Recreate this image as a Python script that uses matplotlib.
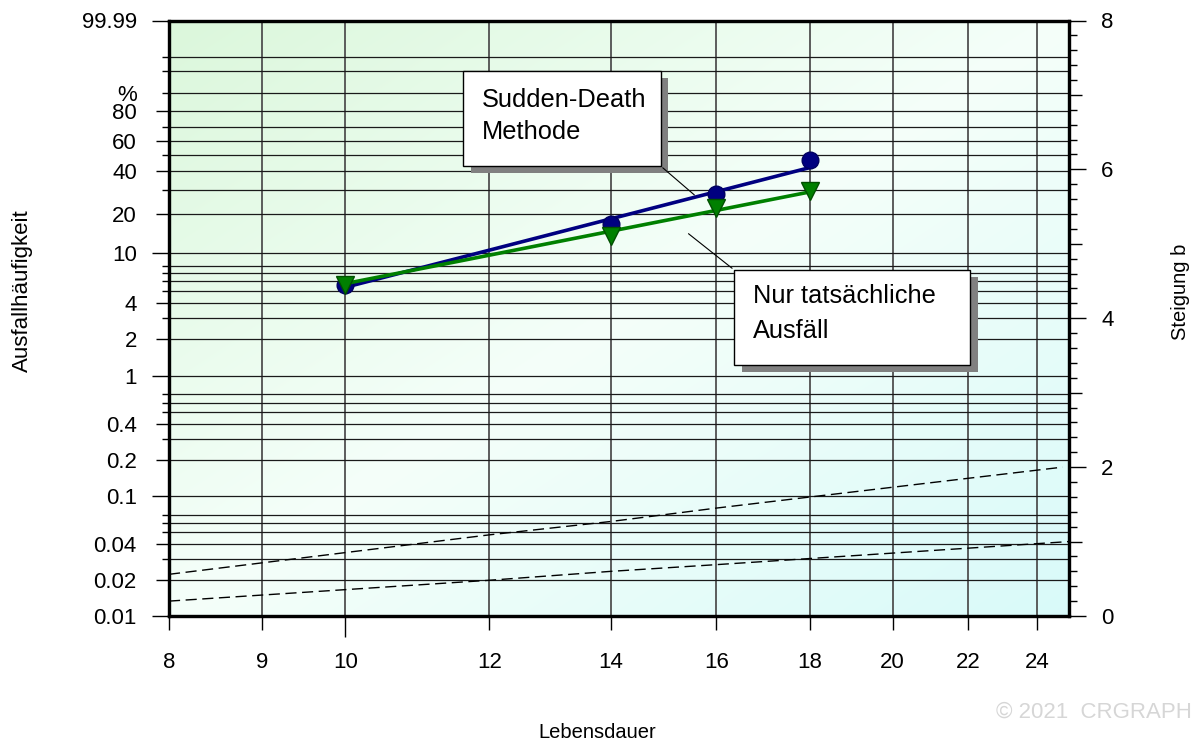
import numpy as np
import matplotlib
matplotlib.use('Agg')
import matplotlib.pyplot as plt
from matplotlib.patches import Rectangle
from matplotlib.ticker import NullLocator

plt.rcParams['font.family'] = ['Liberation Sans', 'DejaVu Sans']

# Ausfallhäufigkeit in % über Lebensdauer
sd_x = [10, 14, 16, 18]
sd_f = [5.6, 16.8, 28.2, 46.7]          # Sudden-Death Methode
real_x = [10, 14, 16, 18]
real_f = [5.6, 13.7, 22.1, 29.4]        # nur tatsächliche Ausfälle

# Ausgleichsgeraden
sd_fit_x = [10, 18]
sd_fit_f = [5.35, 42.1]
real_fit_x = [10, 18]
real_fit_f = [5.73, 29.0]

# Steigung b (rechte Achse)
b_up_x = [8, 12, 14, 16, 24.8]
b_up = [0.56, 1.09, 1.27, 1.45, 2.0]
b_lo_x = [8, 12, 14, 16, 25]
b_lo = [0.2, 0.48, 0.6, 0.69, 1.0]

x_ticks = [8, 9, 10, 12, 14, 16, 18, 20, 22, 24]
y_major = [0.01, 0.02, 0.04, 0.1, 0.2, 0.4, 1, 2, 4, 10, 20, 40, 60, 80, 90, 99.99]
y_labels = ['0.01', '0.02', '0.04', '0.1', '0.2', '0.4', '1', '2', '4', '10',
            '20', '40', '60', '80', '%', '99.99']
y_long = [0.01, 0.1, 1, 10, 99.99]
y_minor = [0.03, 0.05, 0.06, 0.07, 0.3, 0.5, 0.6, 0.7, 3, 5, 6, 7, 8,
           30, 50, 70, 97, 99]


def weib(f):
    f = np.clip(np.asarray(f, dtype=float), 1e-9, 100 - 1e-9)
    return np.log(-np.log(1 - f / 100.0))


def weib_inv(w):
    w = np.clip(np.asarray(w, dtype=float), -50, 5)
    return 100.0 * (1 - np.exp(-np.exp(w)))


fig = plt.figure(figsize=(11.96, 7.44), dpi=100)
rect = [169 / 1196, 1 - 616 / 744, 900 / 1196, 595.5 / 744]

# Hintergrundverlauf
bg = fig.add_axes(rect, zorder=-1)
gx, gy = np.meshgrid(np.linspace(0, 1, 200), np.linspace(0, 1, 200))
t = 0.5 * (gx + gy)
c0 = np.array([0.86, 0.97, 0.86])
c1 = np.array([0.96, 1.0, 0.98])
c2 = np.array([0.85, 0.98, 0.98])
tt = t[..., None]
img = np.where(tt < 0.5, c0 + (c1 - c0) * (tt / 0.5), c1 + (c2 - c1) * ((tt - 0.5) / 0.5))
bg.imshow(img, extent=(0, 1, 0, 1), aspect='auto', interpolation='bilinear')
bg.axis('off')

ax = fig.add_axes(rect)
ax.patch.set_visible(False)
ax.set_xscale('log')
ax.set_yscale('function', functions=(weib, weib_inv))
ax.set_xlim(8, 25)
ax.set_ylim(0.01, 99.99)

ax.set_xticks(x_ticks, [str(v) for v in x_ticks])
ax.xaxis.set_minor_locator(NullLocator())
ax.set_yticks(y_major, y_labels)
ax.set_yticks(y_minor, minor=True)

ax.tick_params(axis='x', which='major', length=10, width=1, pad=16, labelsize=16)
ax.tick_params(axis='y', which='major', length=12.2, width=1, pad=11, labelsize=16)
ax.tick_params(axis='y', which='minor', length=5, width=1)

for tk, v in zip(ax.yaxis.get_major_ticks(), y_major):
    if v in y_long:
        tk.tick1line.set_markersize(12.2)
    elif v == 90:
        tk.tick1line.set_markersize(5)
    else:
        tk.tick1line.set_markersize(9.4)
for tk, v in zip(ax.xaxis.get_major_ticks(), x_ticks):
    if v == 10:
        tk.tick1line.set_markersize(15)

ax.grid(axis='y', which='both', color='#1a1a1a', lw=0.9)
ax.grid(axis='x', which='major', color='#505050', lw=1.3)

# Daten
ax.plot(sd_fit_x, sd_fit_f, color='#000080', lw=2.6, zorder=3)
ax.plot(sd_x, sd_f, 'o', ms=12, color='#000080', mec='#000060', zorder=3)
ax.plot(real_fit_x, real_fit_f, color='#008000', lw=2.6, zorder=4)
ax.plot(real_x, real_f, 'v', ms=13, color='#008000', mec='#005000', zorder=4)

for s in ax.spines.values():
    s.set_linewidth(2.3)

# Textfelder mit Schatten
boxes = [
    ((0.3267, 0.7557, 0.2196, 0.1595), 'Sudden-Death\nMethode', 0.028, 1.46),
    ((0.6281, 0.4215, 0.2619, 0.1595), 'Nur tatsächliche\nAusfäll', 0.024, 1.58),
]
for (bx, by, bw, bh), txt, dy, lsp in boxes:
    ax.add_patch(Rectangle((bx + 0.0085, by - 0.0125), bw, bh, transform=ax.transAxes,
                           facecolor='#808080', edgecolor='none', zorder=5))
    ax.add_patch(Rectangle((bx, by), bw, bh, transform=ax.transAxes,
                           facecolor='white', edgecolor='black', lw=1, zorder=6))
    ax.text(bx + 0.0205, by + bh - dy, txt, transform=ax.transAxes, fontsize=18.3,
            ha='left', va='top', linespacing=lsp, zorder=7)

# Hinweislinien
xt = 15.6
wt = np.interp(np.log(xt), np.log(sd_fit_x), weib(sd_fit_f))
ax.annotate('', xy=(xt, float(weib_inv(wt))), xytext=(0.5463, 0.7557),
            textcoords='axes fraction',
            arrowprops=dict(arrowstyle='-', color='black', lw=0.8), zorder=6)
ax.annotate('', xy=(15.4, 14.7), xytext=(0.6281, 0.581),
            textcoords='axes fraction',
            arrowprops=dict(arrowstyle='-', color='black', lw=0.8), zorder=6)

# rechte Achse: Steigung b
ax2 = ax.twinx()
ax2.patch.set_visible(False)
ax2.set_ylim(0, 8)
ax2.set_yticks([0, 2, 4, 6, 8], ['0', '2', '4', '6', '8'])
b_minor = [v / 5 for v in range(41) if v % 10 != 0]
ax2.set_yticks(b_minor, minor=True)
ax2.tick_params(axis='y', which='major', length=12.2, width=1, pad=11, labelsize=16)
ax2.tick_params(axis='y', which='minor', length=5.8, width=1)
for tk, v in zip(ax2.yaxis.get_minor_ticks(), b_minor):
    if abs(v - round(v)) < 1e-9 and round(v) % 2 == 1:
        tk.tick2line.set_markersize(9.4)
ax2.plot(b_up_x, b_up, color='black', lw=1, ls=(0, (8, 4)))
ax2.plot(b_lo_x, b_lo, color='black', lw=1, ls=(0, (8, 4)))
for s in ax2.spines.values():
    s.set_linewidth(2.3)

fig.text(22 / 1196, 1 - 291 / 744, 'Ausfallhäufigkeit', rotation=90,
         ha='center', va='center', fontsize=16)
fig.text(1181 / 1196, 1 - 292 / 744, 'Steigung b', rotation=90,
         ha='center', va='center', fontsize=14.5)
fig.text(597 / 1196, 1 - 733 / 744, 'Lebensdauer', ha='center', va='center', fontsize=14.5)
fig.text(1192 / 1196, 1 - 712 / 744, '© 2021  CRGRAPH', ha='right', va='center',
         fontsize=16, color='#d6d6d6')

fig.savefig('out.png', dpi=100)
